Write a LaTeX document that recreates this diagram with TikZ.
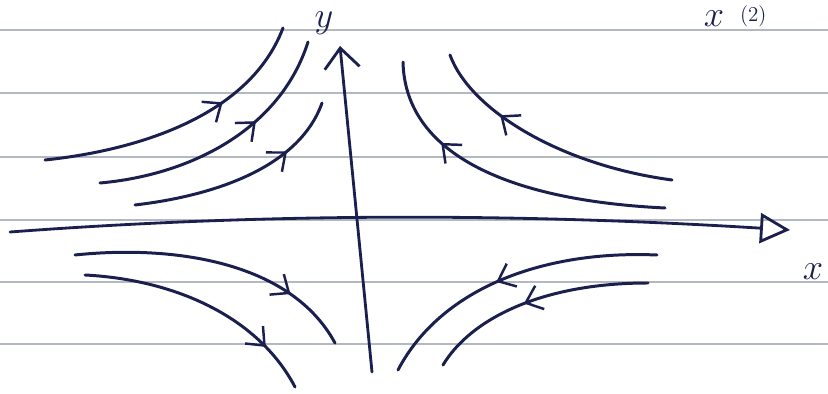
\documentclass[tikz,border=0pt]{standalone}
\usepackage{tikz}
\usetikzlibrary{arrows.meta,decorations.markings}
\definecolor{ink}{HTML}{1B1F4E}
\definecolor{rule}{HTML}{B4B8C0}

\begin{document}
\begin{tikzpicture}[
  x=0.02cm, y=-0.02cm,
  ruled/.style={rule, line width=0.8pt},
  axis/.style={ink, line width=1.6pt, line cap=round},
  orbit/.style={ink, line width=1.7pt, line cap=round},
  flowat/.style={postaction={decorate, decoration={markings,
      mark=at position #1 with {\arrow[ink, line width=1.4pt]{Straight Barb[length=3mm,width=5mm]}}}}},
  lbl/.style={ink, font=\fontsize{20}{22}\selectfont, inner sep=1pt}
]
\useasboundingbox (0,0) rectangle (828,394);

% ruled paper
\foreach \yy in {30,93,157,220,282,344}
  \draw[ruled] (0,\yy) -- (828,\yy);

% axes
\coordinate (xstart) at (10,232);
\coordinate (xend) at (790,230);
\coordinate (ystart) at (372,372);
\coordinate (yend) at (340,46);
\draw[axis, -{Triangle[open, length=6mm, width=6mm, line width=1.6pt]}]
  (xstart) .. controls (250,214) and (500,212) .. (xend);
\draw[axis, -{Straight Barb[length=4mm, width=7mm]}] (ystart) -- (yend);
\node[lbl, anchor=base] (ylabel) at (324,28) {$y$};
\node[lbl] (xlabel) at (813,272) {$x$};
\node[lbl, anchor=base] (toplabel) at (714,27) {$x$};
\node[lbl, anchor=base west, font=\large] (toptag) at (738,22) {(2)};

% upper left
\draw[orbit, flowat=0.66] (45,160) .. controls (140,150) and (250,115) .. (283,28);
\draw[orbit, flowat=0.64] (100,183) .. controls (190,175) and (280,130) .. (308,42);
\draw[orbit, flowat=0.73] (135,205) .. controls (220,195) and (300,165) .. (322,103);

% upper right
\draw[orbit, flowat=0.7] (672,180) .. controls (560,165) and (470,110) .. (450,55);
\draw[orbit, flowat=0.72] (665,208) .. controls (500,200) and (405,150) .. (403,62);

% lower left
\draw[orbit, flowat=0.77] (75,255) .. controls (170,245) and (290,260) .. (335,343);
\draw[orbit, flowat=0.8] (85,275) .. controls (180,280) and (260,320) .. (295,387);

% lower right
\draw[orbit, flowat=0.55] (657,255) .. controls (540,250) and (440,290) .. (398,370);
\draw[orbit, flowat=0.55] (648,283) .. controls (540,283) and (470,320) .. (443,365);
\end{tikzpicture}
\end{document}
